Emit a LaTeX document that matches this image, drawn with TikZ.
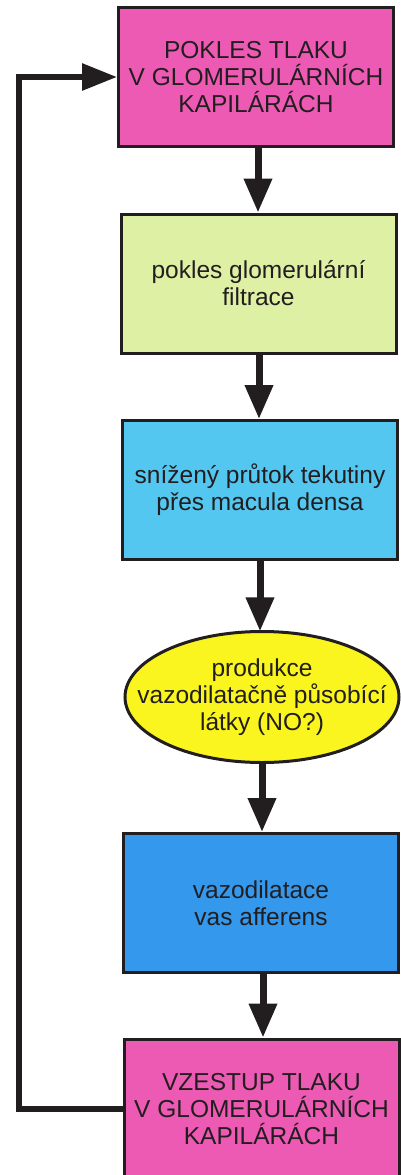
\documentclass[tikz,border=0pt]{standalone}
\usepackage{fontspec}
\setmainfont{Liberation Sans}
\usetikzlibrary{arrows.meta,shapes.geometric}
\definecolor{pinkbox}{RGB}{236,90,180}
\definecolor{greenbox}{RGB}{222,240,163}
\definecolor{lightbluebox}{RGB}{84,199,240}
\definecolor{yellowbox}{RGB}{250,245,30}
\definecolor{bluebox}{RGB}{52,152,236}
\definecolor{ink}{RGB}{34,30,32}
\tikzset{
  txt/.style={align=center, text=ink, font=\fontsize{24.5}{27}\selectfont, inner sep=0pt},
  boxnode/.style={txt, draw=ink, line width=3pt, minimum width=275pt, minimum height=139pt},
  ellnode/.style={txt, minimum width=275pt, minimum height=131pt},
  arr/.style={draw=ink, line width=7pt, -{Triangle[width=27pt,length=34pt]}},
  fbarr/.style={draw=ink, line width=6pt, -{Triangle[width=26pt,length=35pt]}}
}
\begin{document}
\begin{tikzpicture}[x=1pt,y=-1pt]
\useasboundingbox (0,0) rectangle (401,1175);
\node[boxnode, fill=pinkbox] (a) at (256,77) {POKLES TLAKU\\V GLOMERULÁRNÍCH\\KAPILÁRÁCH};
\node[boxnode, fill=greenbox] (b) at (258.5,283.5) {pokles glomerulární\\filtrace};
\node[boxnode, fill=lightbluebox] (c) at (260,490) {snížený průtok tekutiny\\přes macula densa};
\filldraw[fill=yellowbox, draw=ink, line width=3pt] (262,697) ellipse [x radius=137pt, y radius=65.5pt];
\node[ellnode] (d) at (262,697) {produkce\\vazodilatačně působící\\látky (NO?)};
\node[boxnode, fill=bluebox] (e) at (261,903) {vazodilatace\\vas afferens};
\node[boxnode, fill=pinkbox, minimum height=140pt] (f) at (261.5,1109) {VZESTUP TLAKU\\V GLOMERULÁRNÍCH\\KAPILÁRÁCH};
\draw[arr] ([xshift=2pt]a.south) -- ([xshift=2pt]a.south |- b.north);
\draw[arr] ([xshift=0.5pt]b.south) -- ([xshift=0.5pt]b.south |- c.north);
\draw[arr] (c.south) -- (c.south |- d.north);
\draw[arr] (d.south) -- (d.south |- e.north);
\draw[arr] ([xshift=2pt]e.south) -- ([xshift=2pt]e.south |- f.north);
\draw[fbarr] (f.west) -- ++(-104,0) |- (a.west);
\end{tikzpicture}
\end{document}
